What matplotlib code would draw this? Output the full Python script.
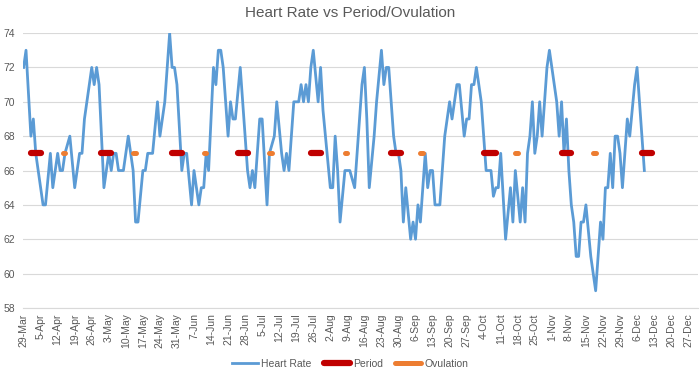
import matplotlib
matplotlib.use("Agg")
import matplotlib.pyplot as plt
import numpy as np
import pandas as pd

# daily resting heart rate, starting 29-Mar
heart_rate = [
    72, 73, 70.5, 68, 69, 67, 66, 65, 64, 64,
    65.5, 67, 65, 66, 67, 66, 66, 67, 67.5, 68,
    66.5, 65, 66, 67, 67, 69, 70, 71, 72, 71,
    72, 71, 68, 65, 66, 67, 66, 67, 67, 66,
    66, 66, 67, 68, 67, 66, 63, 63, 64.5, 66,
    66, 67, 67, 67, 68.5, 70, 68, 69, 70, 72,
    74, 72, 72, 71, 68.5, 66, 67, 67, 65.5, 64,
    66, 65, 64, 65, 65, 67, 66, 69, 72, 71,
    73, 73, 72, 70, 68, 70, 69, 69, 70.5, 72,
    70, 68, 66, 65, 66, 65, 67, 69, 69, 66.5,
    64, 67, 67.5, 68, 70, 68.5, 67, 66, 67, 66,
    68, 70, 70, 70, 71, 70, 71, 70, 72, 73,
    71.5, 70, 72, 69.5, 68, 66.5, 65, 65, 68, 66,
    63, 64.5, 66, 66, 66, 65.5, 65, 67, 69, 71,
    72, 69, 65, 66.5, 68, 70, 71.5, 73, 71, 72,
    72, 70, 68, 67, 67, 66, 63, 65, 63.5, 62,
    63, 62, 64, 63, 65, 67, 65, 66, 66, 64,
    64, 64, 66, 68, 69, 70, 69, 70, 71, 71,
    69.5, 68, 69, 69, 71, 71, 72, 71, 70, 68,
    66, 66, 66, 64.5, 65, 65, 67, 64.5, 62, 63.5,
    65, 63, 66, 64.5, 63, 65, 63, 67, 68, 70,
    67, 68, 70, 68, 70, 72, 73, 72, 71, 70,
    68, 70, 67, 69, 66, 64, 63, 61, 61, 63,
    63, 64, 62.5, 61, 60, 59, 61, 63, 62, 65,
    65, 67, 65, 68, 68, 67, 65, 67, 69, 68,
    69.5, 71, 72, 70, 68, 66,
]

# day offsets (from 29-Mar) flagged as period / ovulation
period_days = [3, 4, 5, 6, 7,
               32, 33, 34, 35, 36,
               61, 62, 63, 64, 65,
               88, 89, 90, 91, 92,
               118, 119, 120, 121, 122,
               151, 152, 153, 154, 155,
               189, 190, 191, 192, 193, 194,
               221, 222, 223, 224, 225,
               254, 255, 256, 257, 258]
ovulation_days = [16, 17, 45, 46, 74, 75, 101, 102,
                  132, 133, 163, 164, 202, 203, 234, 235]
marker_level = 67

start = pd.Timestamp("2019-03-29")
n_days = 260
days = np.arange(n_days)
period = np.full(n_days, np.nan)
period[period_days] = marker_level
ovulation = np.full(n_days, np.nan)
ovulation[ovulation_days] = marker_level

tick_days = np.arange(0, 274, 7)
tick_labels = [f"{d.day}-{d.strftime('%b')}" for d in start + pd.to_timedelta(tick_days, unit="D")]

plt.rcParams['font.family'] = ['Liberation Sans', 'DejaVu Sans']
grey = '#595959'

fig = plt.figure(figsize=(7, 3.76), dpi=100)
ax = fig.add_axes([0.033, 0.181, 0.964, 0.731])

ax.plot(np.arange(len(heart_rate)), heart_rate, color='#5B9BD5', lw=2.0, label='Heart Rate')
ax.plot(days, period, color='#C00000', lw=4.5, solid_capstyle='round', label='Period')
ax.plot(days, ovulation, color='#ED7D31', lw=3.6, solid_capstyle='round', label='Ovulation')

ax.set_ylim(58, 74)
ax.set_yticks(np.arange(58, 75, 2))
ax.set_xlim(-0.2, 277)
ax.set_xticks(tick_days)
ax.set_xticklabels(tick_labels, rotation=90)
ax.tick_params(axis='both', length=0, labelsize=7.5, labelcolor=grey)
ax.tick_params(axis='y', pad=6)
ax.tick_params(axis='x', pad=4)
ax.grid(axis='y', color='#D9D9D9', lw=0.8)
ax.set_axisbelow(True)
for side in ['top', 'right', 'left']:
    ax.spines[side].set_visible(False)
ax.spines['bottom'].set_color('#D9D9D9')

fig.suptitle("Heart Rate vs Period/Ovulation", y=0.985, fontsize=11, color=grey)
fig.legend(loc='lower center', bbox_to_anchor=(0.5, -0.005), ncol=3, frameon=False,
           fontsize=7.5, labelcolor=grey, handlelength=2.5, handletextpad=0.3, columnspacing=1.2)

fig.savefig("out.png", dpi=100)
